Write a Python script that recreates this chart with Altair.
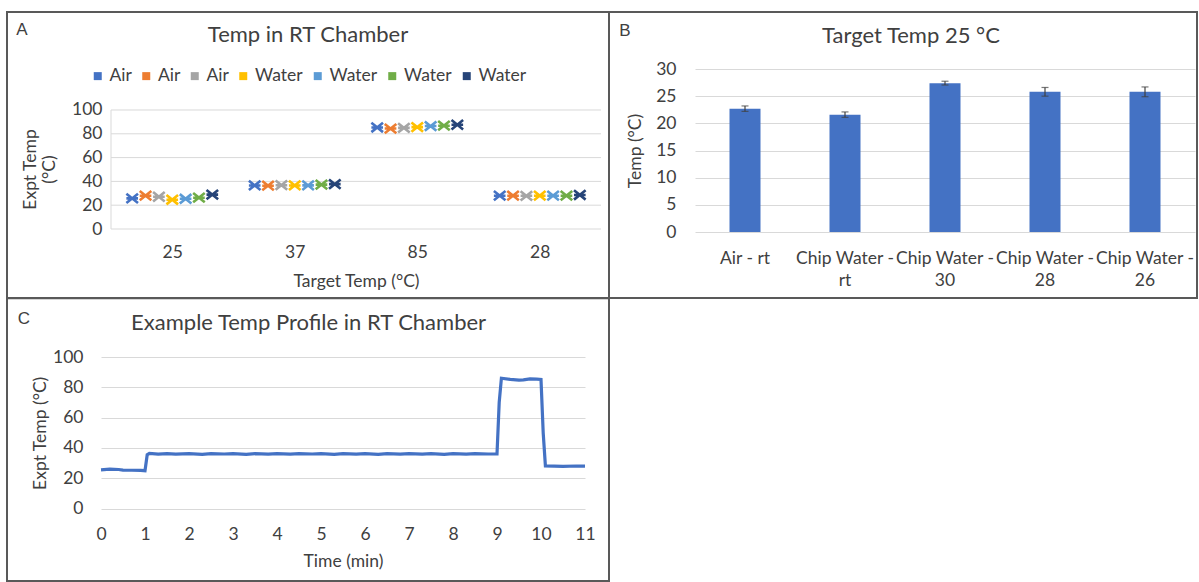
import altair as alt
import pandas as pd

FONT = "Lato"
TXT = "#404040"
LBL = "#404040"
GRID = "#D9D9D9"
BORDER = "#595959"
BLUE = "#4472C4"
TITLE_SIZE = 22
LABEL_SIZE = 17.5

# ---------------- Panel A data ----------------
targets = ["25", "37", "85", "28"]
series_ids = ["s1", "s2", "s3", "s4", "s5", "s6", "s7"]
series_names = ["Air", "Air", "Air", "Water", "Water", "Water", "Water"]
series_colors = ["#4472C4", "#ED7D31", "#A5A5A5", "#FFC000", "#5B9BD5", "#70AD47", "#264478"]
air_1 = [25.7, 36.6, 85.3, 28.0]
air_2 = [28.0, 36.4, 84.4, 28.0]
air_3 = [27.1, 36.8, 85.0, 27.9]
water_1 = [24.6, 36.6, 85.6, 28.0]
water_2 = [25.4, 36.7, 86.5, 28.0]
water_3 = [26.3, 37.3, 86.8, 28.0]
water_4 = [28.9, 37.7, 87.6, 28.6]
values_a = [air_1, air_2, air_3, water_1, water_2, water_3, water_4]
ticks_a = [0, 20, 40, 60, 80, 100]

# ---------------- Panel B data ----------------
conditions = ["Air - rt", "Chip Water - rt", "Chip Water - 30", "Chip Water - 28", "Chip Water - 26"]
mean_temp = [22.7, 21.6, 27.4, 25.8, 25.8]
err_temp = [0.5, 0.5, 0.35, 0.8, 0.9]
ticks_b = [0, 5, 10, 15, 20, 25, 30]

# ---------------- Panel C data ----------------
time_min = [0, 0.2, 0.4, 0.5, 0.7, 0.9, 1.0, 1.05, 1.1, 1.3, 1.5, 1.7, 2.0, 2.3, 2.5, 2.8,
            3.0, 3.3, 3.5, 3.8, 4.0, 4.3, 4.5, 4.8, 5.0, 5.3, 5.5, 5.8, 6.0, 6.3, 6.5, 6.8,
            7.0, 7.3, 7.5, 7.8, 8.0, 8.3, 8.5, 8.8, 9.0, 9.05, 9.1, 9.3, 9.5, 9.6, 9.75,
            9.9, 10.0, 10.05, 10.1, 10.3, 10.5, 10.8, 11.0]
temp_c = [25.6, 26.0, 25.8, 25.4, 25.3, 25.2, 25.0, 35.5, 36.4, 36.0, 36.3, 35.9, 36.2, 35.8,
          36.2, 36.0, 36.3, 35.8, 36.2, 35.9, 36.3, 35.9, 36.2, 36.0, 36.3, 35.8, 36.2, 35.9,
          36.3, 35.8, 36.2, 35.9, 36.3, 35.9, 36.2, 35.8, 36.2, 35.9, 36.3, 36.0, 36.0, 70.0,
          86.0, 85.2, 84.8, 84.9, 85.6, 85.4, 85.2, 50.0, 28.2, 28.0, 27.9, 28.1, 28.0]
ticks_c_x = list(range(0, 12))
ticks_c_y = [0, 20, 40, 60, 80, 100]

one = pd.DataFrame({"k": [0]})


def frame(x1, x2, y1, y2):
    return alt.Chart(one).mark_rect(fill="transparent", stroke=BORDER, strokeWidth=2).encode(
        x=alt.value(x1), x2=alt.value(x2), y=alt.value(y1), y2=alt.value(y2))


def label(text, x, y, size, font=FONT):
    return alt.Chart(one).mark_text(font=font, fontSize=size, color=TXT, align="center",
                                    baseline="alphabetic").encode(
        x=alt.value(x), y=alt.value(y), text=alt.value(text))


# ---------------- Panel A ----------------
# category slot index plus a small cluster offset per series (Excel's side-by-side series)
SERIES_GAP = 0.109
rows = []
for si, (sid, vals) in enumerate(zip(series_ids, values_a)):
    for ci, (t, v) in enumerate(zip(targets, vals)):
        rows.append({"pos": ci + (si - 3) * SERIES_GAP, "target": t, "series": sid, "temp": v})
df_a = pd.DataFrame(rows)

name_expr = "''"
for sid, nm in reversed(list(zip(series_ids, series_names))):
    name_expr = f"datum.label == '{sid}' ? '{nm}' : ({name_expr})"
target_expr = "[" + ", ".join(f"'{t}'" for t in targets) + "][datum.value]"

color_scale = alt.Scale(domain=series_ids, range=series_colors)
star = "M-1,-0.8L1,0.8M-1,0.8L1,-0.8M-1,0L1,0"
xa_scale = alt.Scale(domain=[-0.5 - 10 / 122.5, len(targets) - 0.5], nice=False, zero=False)
ya_scale = alt.Scale(domain=[0, 134.45], nice=False, zero=True)
ya_axis = alt.Axis(values=ticks_a, title=["Expt Temp", "(°C)"], domain=False, grid=False,
                   ticks=False, labelPadding=-1, titlePadding=13, titleY=100,
                   labelOverlap=False)

grid_a = alt.Chart(pd.DataFrame({"v": ticks_a})).mark_rule(color=GRID, strokeWidth=1).encode(
    y=alt.Y("v:Q", scale=ya_scale, axis=ya_axis, title=["Expt Temp", "(°C)"]),
    x=alt.value(10), x2=alt.value(500))
vline_a = alt.Chart(one).mark_rule(color=GRID, strokeWidth=1).encode(
    x=alt.value(10), y=alt.datum(0, scale=ya_scale, axis=ya_axis, title=["Expt Temp", "(°C)"]),
    y2=alt.datum(100))

pts = alt.Chart(df_a).mark_point(filled=True, shape=star, size=135, strokeWidth=2.6,
                                 opacity=1).encode(
    x=alt.X("pos:Q", scale=xa_scale,
            axis=alt.Axis(title="Target Temp (°C)", values=list(range(len(targets))),
                          labelExpr=target_expr, ticks=False, domain=False, grid=False,
                          labelPadding=14, titlePadding=12, titleX=255, labelFlush=False)),
    y=alt.Y("temp:Q", scale=ya_scale, axis=ya_axis, title=["Expt Temp", "(°C)"]),
    color=alt.Color("series:N", scale=color_scale, sort=series_ids,
                    legend=alt.Legend(title=None, orient="none", direction="horizontal",
                                      legendX=-12, legendY=-2, symbolType="square",
                                      symbolSize=64, symbolStrokeWidth=0, labelExpr=name_expr,
                                      columnPadding=5.5, labelOffset=3, padding=0)),
    stroke=alt.Stroke("series:N", scale=color_scale, legend=None),
)

panel_a = alt.layer(
    grid_a, vline_a, pts,
    frame(-94, 508, -57, 229),
    label("Temp in RT Chamber", 207, -27, TITLE_SIZE),
    label("A", -79, -34, 17, "Liberation Sans"),
).properties(width=500, height=160)

# ---------------- Panel B ----------------
df_b = pd.DataFrame({"cond": conditions, "temp": mean_temp, "err": err_temp})
df_b["lo"] = df_b["temp"] - df_b["err"]
df_b["hi"] = df_b["temp"] + df_b["err"]

wrap_expr = ("datum.label == 'Air - rt' ? datum.label : "
             "[slice(datum.label, 0, 12), slice(datum.label, 13)]")

xb = alt.X("cond:N", sort=conditions,
           scale=alt.Scale(type="band", paddingInner=0.68, paddingOuter=0.34),
           axis=alt.Axis(title=None, labelAngle=0, ticks=False, domain=False, grid=False,
                         labelPadding=17, labelExpr=wrap_expr, labelOverlap=False,
                         labelLineHeight=22, labelBound=False))
yb_scale = alt.Scale(domain=[0, 30])
yb_axis = alt.Axis(values=ticks_b, title="Temp (°C)", domain=False, ticks=False,
                   labelPadding=19, titlePadding=11, labelOverlap=False)
bars = alt.Chart(df_b).mark_bar(color=BLUE, size=31).encode(
    x=xb,
    y=alt.Y("temp:Q", scale=yb_scale, axis=yb_axis, title="Temp (°C)"),
)
err_rule = alt.Chart(df_b).mark_rule(color="#404040", strokeWidth=1.2).encode(
    x=xb, y=alt.Y("lo:Q", scale=yb_scale, axis=yb_axis, title="Temp (°C)"), y2="hi:Q")
cap_lo = alt.Chart(df_b).mark_tick(color="#404040", size=7, thickness=1.2,
                                   orient="horizontal").encode(
    x=xb, y=alt.Y("lo:Q", scale=yb_scale, axis=yb_axis, title="Temp (°C)"))
cap_hi = alt.Chart(df_b).mark_tick(color="#404040", size=7, thickness=1.2,
                                   orient="horizontal").encode(
    x=xb, y=alt.Y("hi:Q", scale=yb_scale, axis=yb_axis, title="Temp (°C)"))

panel_b = alt.layer(
    bars, err_rule, cap_lo, cap_hi,
    frame(-86, 502, -57, 229),
    label("Target Temp 25 °C", 216, -26, TITLE_SIZE),
    label("B", -70, -33, 17, "Liberation Sans"),
).properties(width=500, height=163)

# ---------------- Panel C ----------------
df_c = pd.DataFrame({"t": time_min, "temp": temp_c})
line = alt.Chart(df_c).mark_line(color=BLUE, strokeWidth=3.2).encode(
    x=alt.X("t:Q", scale=alt.Scale(domain=[0, 11], nice=False),
            axis=alt.Axis(values=ticks_c_x, title="Time (min)", domain=False,
                          ticks=False, grid=False, labelPadding=17, titlePadding=9,
                          format="d", labelOverlap=False)),
    y=alt.Y("temp:Q", scale=alt.Scale(domain=[0, 100]),
            axis=alt.Axis(values=ticks_c_y, title="Expt Temp (°C)",
                          domain=False, ticks=False, labelPadding=18, titlePadding=3,
                          labelOverlap=False)),
)

panel_c = alt.layer(
    line,
    frame(-94, 508, -58.7, 224),
    label("Example Temp Profile in RT Chamber", 207.6, -26.7, TITLE_SIZE),
    label("C", -77, -33.4, 17, "Liberation Sans"),
).properties(width=484, height=151.6)

chart = alt.concat(panel_a, panel_b, panel_c, columns=2, spacing=-2).properties(
    align="none",
    padding={"left": 6, "top": 11, "right": 0, "bottom": 0},
    background="white",
).configure_view(strokeWidth=0).configure_axis(
    labelFont=FONT, titleFont=FONT, labelFontSize=LABEL_SIZE, titleFontSize=LABEL_SIZE,
    labelColor=LBL, titleColor=TXT, titleFontWeight="normal", gridColor=GRID,
    gridWidth=1, labelFlush=False,
).configure_legend(labelFont=FONT, labelFontSize=LABEL_SIZE, labelColor=LBL)

chart.save("out.html", embed_options={"renderer": "svg", "actions": False})
